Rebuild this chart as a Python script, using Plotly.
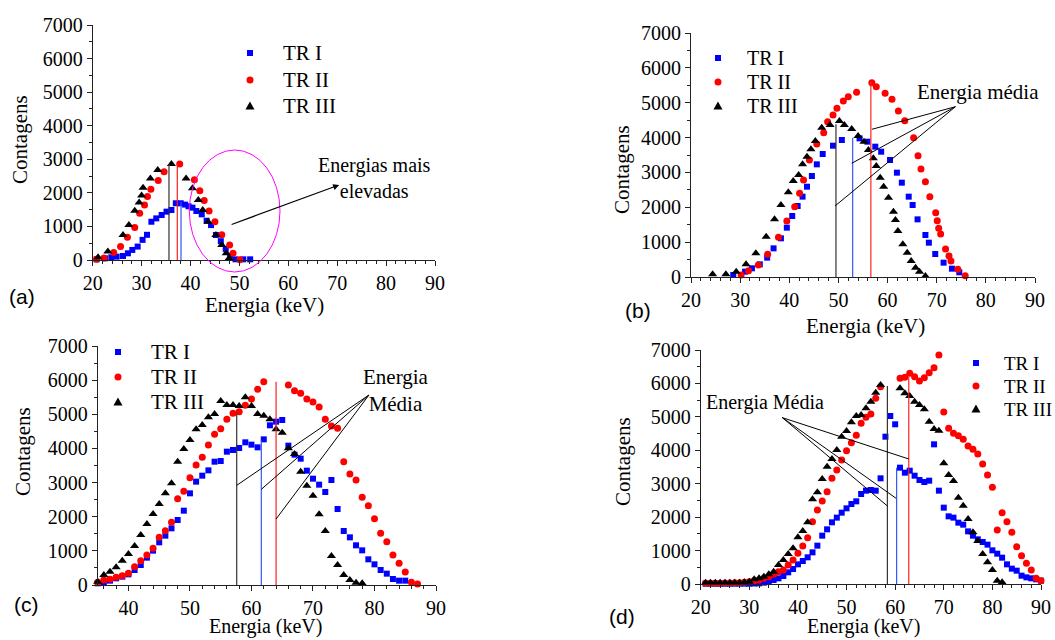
import plotly.graph_objects as go

W, H = 1055, 640
SERIF = "Liberation Serif"
SANS = "Liberation Sans"

def fx(p):
    return p / W

def fy(p):
    return 1 - p / H

series_names = ["TR I", "TR II", "TR III"]

# ---------------- Panel (a) ----------------
a_e_tr1 = [20.8, 22.5, 23.8, 24.9, 26.2, 27.2, 28.1, 29.2, 30.2, 31.1, 32.0, 33.0, 34.1, 35.1, 36.1, 37.0, 38.0,
           38.9, 39.6, 40.4, 41.2, 42.3, 43.3, 44.2, 45.2, 46.2, 47.2, 48.1, 49.2, 50.8, 52.2]
a_c_tr1 = [20, 50, 80, 100, 120, 200, 300, 400, 600, 750, 1140, 1240, 1340, 1440, 1490, 1690, 1690,
           1650, 1600, 1560, 1460, 1360, 1170, 1040, 745, 560, 330, 130, 20, 20, 20]
a_e_tr2 = [20.8, 22.3, 24.3, 25.7, 27.1, 28.6, 29.6, 30.6, 31.2, 31.9, 33.4, 34.6, 37.8, 40.8, 41.9, 42.8,
           43.8, 45.0, 46.4, 48.0, 48.7, 50.1]
a_c_tr2 = [20, 60, 220, 400, 680, 970, 1390, 1640, 1890, 2110, 2370, 2630, 2860, 2390, 2060, 1770,
           1460, 1140, 750, 447, 200, 10]
a_e_tr3 = [21.1, 23.1, 26.2, 27.4, 28.6, 29.5, 30.0, 30.3, 31.8, 33.3, 36.1, 39.1, 40.4, 41.6, 42.5, 43.6,
           45.2, 46.4, 47.3, 47.9]
a_c_tr3 = [80, 250, 745, 1040, 1470, 1710, 1920, 2150, 2430, 2680, 2860, 2430, 2135, 1790, 1490, 1140,
           745, 447, 200, 50]
a_mean_e = [38.06, 37.3, 35.6]
a_mean_c = [1737, 2860, 2860]

# ---------------- Panel (b) ----------------
b_e_tr1 = [28.6, 31.0, 32.4, 34.0, 35.5, 36.8, 38.3, 39.5, 40.6, 41.7, 42.7, 43.6, 44.6, 45.6, 46.8, 48.9, 50.7,
           54.3, 55.9, 57.5, 58.7, 60.5, 61.9, 62.9, 64.3, 65.1, 66.1, 67.7, 68.4, 69.7, 71.4, 73.1, 74.6]
b_c_tr1 = [57, 153, 249, 363, 555, 822, 1109, 1415, 1750, 2037, 2305, 2591, 2897, 3232, 3528, 3767, 3930,
           3978, 3882, 3739, 3595, 3356, 2993, 2706, 2305, 2065, 1654, 1205, 985, 660, 411, 239, 134]
b_e_tr2 = [30.2, 31.7, 33.7, 35.6, 37.8, 39.5, 41.1, 42.1, 42.9, 44.1, 45.6, 47.0, 47.8, 48.9, 49.7, 51.0, 52.0,
           53.7, 56.8, 57.7, 59.5, 60.9, 62.2, 63.5, 65.3, 66.2, 66.8, 67.7, 68.6, 69.8, 70.1, 70.4, 70.8, 71.8,
           72.5, 72.9, 74.3, 75.8]
b_c_tr2 = [57, 182, 344, 650, 1138, 1606, 2018, 2400, 2783, 3356, 3815, 4140, 4456, 4647, 4838, 5049, 5173,
           5297, 5575, 5460, 5268, 5096, 4762, 4485, 3997, 3481, 3098, 2735, 2305, 1846, 1616, 1396, 1234, 803,
           602, 459, 220, 38]
b_e_tr3 = [24.4, 27.1, 29.2, 31.2, 33.2, 35.3, 37.0, 38.3, 39.8, 40.8, 41.9, 42.7, 43.6, 44.4, 45.3, 46.6, 48.3,
           50.2, 51.2, 52.7, 54.0, 55.2, 56.1, 57.1, 57.7, 58.5, 59.2, 60.2, 61.2, 61.6, 62.1, 63.1, 64.0, 64.8,
           65.7, 66.5, 67.7]
b_c_tr3 = [77, 77, 153, 363, 679, 1157, 1654, 2065, 2429, 2754, 2926, 3232, 3452, 3662, 3901, 4284, 4360,
           4475, 4360, 4246, 4045, 3882, 3643, 3404, 3184, 2850, 2591, 2276, 1874, 1635, 1320, 937, 698, 459,
           268, 153, 29]
b_mean_e = [52.9, 56.6, 49.5]
b_mean_c = [3996, 5603, 4380]
b_label_e, b_label_c = 73.8, 4885
b_target_e = [56.8, 52.7, 49.3]
b_target_c = [4237, 3262, 2037]

# ---------------- Panel (c) ----------------
c_e_tr1 = list(range(35, 86))
c_c_tr1 = [49, 78, 127, 195, 244, 312, 439, 586, 801, 1006, 1250, 1445, 1660, 1904, 2177, 2685, 3027, 3202,
           3358, 3612, 3632, 3905, 3954, 4013, 4179, 4110, 4032, 4266, 4677, 4784, 4833, 4081, 3817, 3700,
           3349, 3114, 2939, 2724, 3075, 2226, 1582, 1396, 1162, 1015, 752, 605, 439, 332, 176, 127, 127]
c_e_tr2 = list(range(35, 63)) + list(range(66, 88))
c_c_tr2 = [78, 146, 166, 225, 273, 342, 537, 713, 879, 1074, 1396, 1591, 1835, 2529, 2743, 3144, 3515, 3739,
           4100, 4413, 4579, 4852, 5028, 5077, 5262, 5448, 5731, 5955,
           5858, 5692, 5614, 5448, 5360, 5213, 4852, 4657, 4589, 3612, 3251, 3075, 2568, 2324, 1943, 1513,
           1269, 879, 635, 381, 78, 29]
c_e_tr3 = list(range(35, 79))
c_c_tr3 = [98, 293, 390, 517, 713, 908, 1142, 1464, 1787, 2080, 2372, 2685, 2978, 3612, 3983, 4247, 4559, 4686,
           4911, 5008, 5389, 5272, 5272, 5243, 5497, 5243, 5008, 4960, 4852, 4559, 4462, 4003, 3837, 3319,
           2909, 2616, 2070, 1582, 849, 586, 293, 146, 68, 49]
c_mean_e = [61.6, 64.0, 57.6]
c_mean_c = [4230, 5955, 5028]
c_label_e, c_label_c = 79.1, 5565
c_target_e = [57.6, 61.6, 64.0]
c_target_c = [2919, 2802, 1933]

# ---------------- Panel (d) ----------------
d_e_tr1 = list(range(21, 91))
d_c_tr1 = [10, 10, 10, 10, 10, 10, 10, 10, 10, 10, 15, 20, 40, 70, 120, 170, 240, 349, 449, 588, 688, 798,
           947, 1147, 1446, 1635, 1845, 1985, 2134, 2264, 2393, 2473, 2693, 2792, 2812, 2792, 3161, 4407, 5026,
           4777, 3480, 3330, 3390, 3240, 3111, 3051, 3091, 4178, 2792, 2284, 2024, 1985, 1835, 1775, 1575, 1446,
           1336, 1257, 1177, 1007, 907, 788, 588, 459, 399, 249, 199, 170, 140, 100]
d_e_tr2 = list(range(21, 58)) + list(range(61, 91))
d_c_tr2 = [20, 20, 25, 25, 30, 30, 35, 40, 50, 70, 100, 120, 170, 220, 290, 370, 420, 570, 718, 917, 1137,
           1386, 1865, 2214, 2483, 2762, 3161, 3410, 3710, 3989, 4228, 4448, 4806, 4986, 5086, 5554, 5903,
           6153, 6183, 6302, 6203, 6073, 6173, 6322, 6472, 6851, 5146, 4657, 4507, 4438, 4328, 4128, 4029,
           3889, 3590, 3261, 2892, 1615, 2134, 1865, 1546, 1117, 848, 618, 419, 170, 100]
d_e_tr3 = list(range(21, 58)) + list(range(61, 83))
d_c_tr3 = [40, 40, 40, 40, 40, 40, 40, 40, 50, 70, 140, 170, 220, 290, 370, 570, 718, 897, 1067, 1396, 1586,
           1845, 2533, 2742, 3141, 3510, 3740, 4009, 4408, 4577, 4836, 5026, 5056, 5255, 5455, 5724, 5953,
           5853, 5704, 5624, 5455, 5355, 5225, 4856, 4637, 4587, 3610, 3261, 3081, 2583, 2343, 1945, 1546,
           1286, 897, 648, 419, 100, 50]
d_mean_e = [60.3, 62.8, 58.4]
d_mean_c = [3480, 6203, 5923]
d_label_e, d_label_c = 36.8, 4976
d_target_e = [62.8, 60.2, 58.4]
d_target_c = [3740, 2563, 2334]

# ---------------- styling ----------------
colors = ["#0000ff", "#ff0000", "#000000"]
marker_styles = [
    dict(symbol="square", size=6, color=colors[0]),
    dict(symbol="circle", size=7, color=colors[1]),
    dict(symbol="triangle-up", size=8, color=colors[2]),
]
mean_colors = ["#3355ff", "#ff2020", "#333333"]

panels = [
    dict(key="", x=(92.7, 435), y=(25, 260), xr=[20, 90],
         data=[(a_e_tr1, a_c_tr1), (a_e_tr2, a_c_tr2), (a_e_tr3, a_c_tr3)], mean=(a_mean_e, a_mean_c),
         leg=dict(mx=250, tx=281, rows=[53, 80, 106], size=21)),
    dict(key="2", x=(691, 1035), y=(33, 277), xr=[20, 90],
         data=[(b_e_tr1, b_c_tr1), (b_e_tr2, b_c_tr2), (b_e_tr3, b_c_tr3)], mean=(b_mean_e, b_mean_c),
         leg=dict(mx=718, tx=745, rows=[58, 82, 106], size=20)),
    dict(key="3", x=(97.7, 436), y=(346, 585), xr=[35, 90],
         data=[(c_e_tr1, c_c_tr1), (c_e_tr2, c_c_tr2), (c_e_tr3, c_c_tr3)], mean=(c_mean_e, c_mean_c),
         leg=dict(mx=118, tx=149, rows=[352, 377, 402], size=21)),
    dict(key="4", x=(700.7, 1041), y=(350, 584), xr=[20, 90],
         data=[(d_e_tr1, d_c_tr1), (d_e_tr2, d_c_tr2), (d_e_tr3, d_c_tr3)], mean=(d_mean_e, d_mean_c),
         leg=dict(mx=976, tx=1002, rows=[363, 386, 409], size=19)),
]

fig = go.Figure()
layout = dict(
    width=W, height=H, margin=dict(l=0, r=0, t=0, b=0, autoexpand=False),
    paper_bgcolor="white", plot_bgcolor="white",
    font=dict(family=SERIF, size=20, color="black"),
    showlegend=False,
)

axis_common = dict(
    showgrid=False, zeroline=False, showline=True, linecolor="#222222", linewidth=1,
    ticks="outside", ticklen=5, tickwidth=1, tickcolor="#222222",
    tickfont=dict(family=SERIF, size=20, color="black"),
    automargin=False,
)

shapes = []
annotations = []

def text_ann(txt, x, y, size=20, family=SERIF, angle=0, xanchor="center"):
    annotations.append(dict(xref="paper", yref="paper", x=fx(x), y=fy(y), text=txt, showarrow=False,
                            xanchor=xanchor, yanchor="middle", textangle=angle,
                            font=dict(family=family, size=size, color="black")))

for p in panels:
    k = p["key"]
    xa = "x" + k
    ya = "y" + k
    layout["xaxis" + k] = dict(
        axis_common, domain=[fx(p["x"][0]), fx(p["x"][1])], range=p["xr"], anchor=ya,
        tick0=0, dtick=10, minor=dict(dtick=2, ticks="outside", ticklen=3, tickcolor="#222222"),
    )
    layout["yaxis" + k] = dict(
        axis_common, domain=[fy(p["y"][1]), fy(p["y"][0])], range=[0, 7000], anchor=xa,
        tick0=0, dtick=1000, minor=dict(dtick=500, ticks="outside", ticklen=3, tickcolor="#222222"),
    )
    for (ex, cy), name, ms in zip(p["data"], series_names, marker_styles):
        fig.add_trace(go.Scatter(
            x=ex, y=cy, mode="markers", name=name, marker=ms, xaxis=xa, yaxis=ya, cliponaxis=False,
        ))
    me, mc = p["mean"]
    for e, c, col in zip(me, mc, mean_colors):
        fig.add_trace(go.Scatter(
            x=[e, e], y=[0, c], mode="lines", line=dict(color=col, width=1.2),
            xaxis=xa, yaxis=ya, hoverinfo="skip",
        ))
    # hand-placed legend (symbol shapes + text)
    lg = p["leg"]
    mx = lg["mx"]
    for i, (name, ry) in enumerate(zip(series_names, lg["rows"])):
        if i == 0:
            shapes.append(dict(type="rect", xref="paper", yref="paper", x0=fx(mx - 3), x1=fx(mx + 3),
                               y0=fy(ry + 3), y1=fy(ry - 3), fillcolor=colors[0], line=dict(width=0)))
        elif i == 1:
            shapes.append(dict(type="circle", xref="paper", yref="paper", x0=fx(mx - 3.5), x1=fx(mx + 3.5),
                               y0=fy(ry + 3.5), y1=fy(ry - 3.5), fillcolor=colors[1], line=dict(width=0)))
        else:
            path = "M {:.5f} {:.5f} L {:.5f} {:.5f} L {:.5f} {:.5f} Z".format(
                fx(mx), fy(ry - 4.5), fx(mx - 4.5), fy(ry + 3.5), fx(mx + 4.5), fy(ry + 3.5))
            shapes.append(dict(type="path", xref="paper", yref="paper", path=path,
                               fillcolor=colors[2], line=dict(width=0)))
        text_ann(name, lg["tx"], ry, size=lg["size"], xanchor="left")

for k, (le, lc, te, tc) in {
    "2": (b_label_e, b_label_c, b_target_e, b_target_c),
    "3": (c_label_e, c_label_c, c_target_e, c_target_c),
    "4": (d_label_e, d_label_c, d_target_e, d_target_c),
}.items():
    for e, c in zip(te, tc):
        shapes.append(dict(type="line", xref="x" + k, yref="y" + k, x0=le, y0=lc, x1=e, y1=c,
                           line=dict(color="black", width=1)))

shapes.append(dict(type="circle", xref="paper", yref="paper", x0=fx(189.3), x1=fx(280), y0=fy(272), y1=fy(150),
                   line=dict(color="#ff00ff", width=1)))
annotations.append(dict(xref="x", yref="y", axref="x", ayref="y", x=70.4, y=2234, ax=48.1, ay=1043,
                        text="", showarrow=True, arrowhead=2, arrowsize=1, arrowwidth=1.2, arrowcolor="black"))

text_ann("Energias mais<br>elevadas", 374, 178, size=20)
text_ann("Energia média", 978, 92, size=21)
text_ann("Energia<br>Média", 396, 390, size=21)
text_ann("Energia Média", 765, 402, size=20)

for (x, y) in [(20, 140), (622, 170), (23, 452), (623, 462)]:
    text_ann("Contagens", x, y, size=21, angle=-90)
for (x, y, s) in [(264, 305, 21), (865, 326, 21), (265, 626, 20), (863, 626, 20)]:
    text_ann("Energia (keV)", x, y, size=s)

for lab, (x, y) in zip(["(a)", "(b)", "(c)", "(d)"], [(22, 296), (638, 310), (26, 604), (622, 616)]):
    text_ann(lab, x, y, size=21, family=SANS)

layout["shapes"] = shapes
layout["annotations"] = annotations
fig.update_layout(**layout)
fig.write_html("out.html", config={"displayModeBar": False},
               post_script="document.body.style.margin='0';document.body.style.overflow='hidden';")
